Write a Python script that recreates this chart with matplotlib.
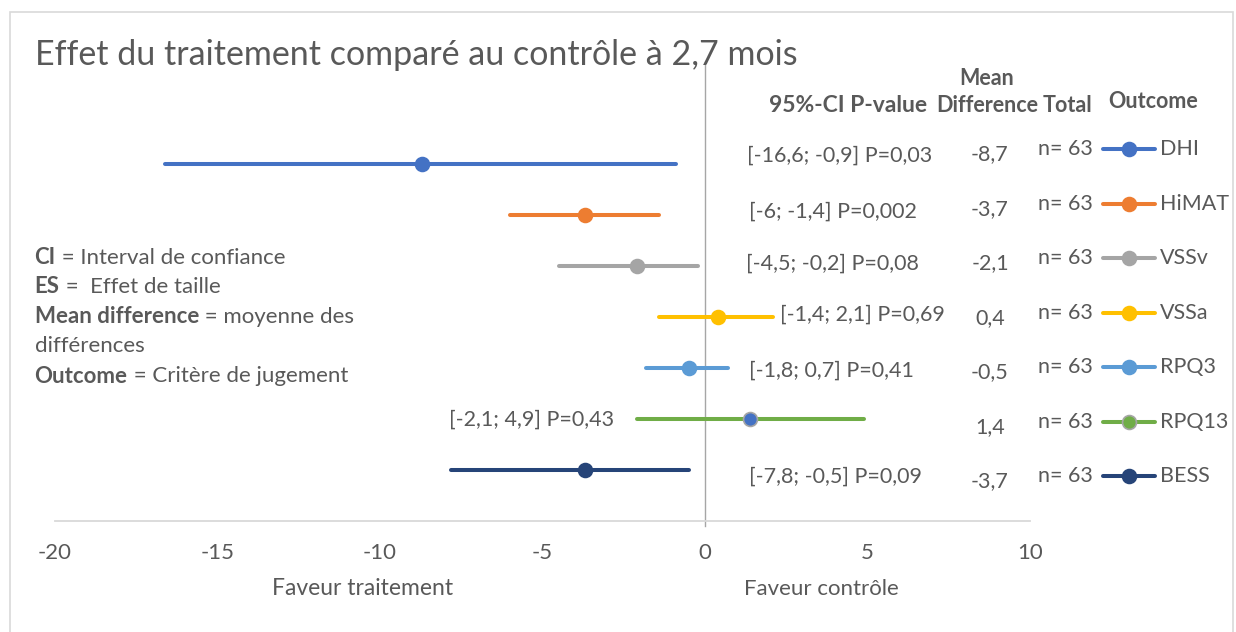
import matplotlib
matplotlib.use('Agg')
import matplotlib.pyplot as plt
from matplotlib.lines import Line2D
from matplotlib.patches import Rectangle

plt.rcParams['font.family'] = ['Lato', 'DejaVu Sans']

# data
outcomes = ['DHI', 'HiMAT', 'VSSv', 'VSSa', 'RPQ3', 'RPQ13', 'BESS']
mean_diff = [-8.7, -3.7, -2.1, 0.4, -0.5, 1.4, -3.7]
ci_low = [-16.6, -6.0, -4.5, -1.4, -1.8, -2.1, -7.8]
ci_high = [-0.9, -1.4, -0.2, 2.1, 0.7, 4.9, -0.5]
p_values = [0.03, 0.002, 0.08, 0.69, 0.41, 0.43, 0.09]
n_total = [63, 63, 63, 63, 63, 63, 63]
colors = ['#4472C4', '#ED7D31', '#A5A5A5', '#FFC000', '#5B9BD5', '#70AD47', '#264478']
x_ticks = [-20, -15, -10, -5, 0, 5, 10]

TXT = '#595959'
FS = 15.5


def fr(v):
    # french decimal format, drop ",0"
    if float(v).is_integer():
        return f"{int(v)}"
    return f"{v:g}".replace('.', ',')


fig = plt.figure(figsize=(12.36, 6.32), dpi=100)
ax = fig.add_axes([0.0445, 0.1756, 0.7888, 0.7263])

# chart frame
fig.patches.append(Rectangle((0.0081, -0.05), 0.9895, 1.031, transform=fig.transFigure,
                             fill=False, edgecolor='#D9D9D9', linewidth=1.2))

n = len(outcomes)
rows = [n - i for i in range(n)]  # DHI on top

ax.axvline(0, ymin=-0.01, ymax=1, color='#A6A6A6', linewidth=1, zorder=1, clip_on=False)

for i, name in enumerate(outcomes):
    y = rows[i]
    ax.plot([ci_low[i], ci_high[i]], [y, y], color=colors[i], linewidth=2.9,
            solid_capstyle='round', zorder=2)
    face = '#4472C4' if name == 'RPQ13' else colors[i]
    edge = '#A5A5A5' if name == 'RPQ13' else colors[i]
    ax.plot(mean_diff[i], y, 'o', color=face, markeredgecolor=edge, markeredgewidth=1.2,
            markersize=10, zorder=3)

# CI / p-value labels (layout, data units)
ci_label_pos = [(1.3, 7.17, 'left'), (1.35, 6.07, 'left'), (1.25, 5.05, 'left'),
                (2.3, 4.05, 'left'), (1.35, 2.95, 'left'), (-2.8, 1.98, 'right'),
                (1.35, 0.86, 'left')]
for i in range(n):
    lx, ly, ha = ci_label_pos[i]
    ax.text(lx, ly, f"[{fr(ci_low[i])}; {fr(ci_high[i])}] P={fr(p_values[i])}",
            ha=ha, va='center', fontsize=FS, color=TXT)

# right-hand columns
col_y0, col_step = 7.29, 1.069
for i in range(n):
    yy = col_y0 - i * col_step
    ax.text(8.77, yy - 0.1, fr(mean_diff[i]), ha='center', va='center', fontsize=FS,
            color=TXT, clip_on=False)
    ax.text(11.1, yy, f"n= {n_total[i]}", ha='center', va='center', fontsize=FS,
            color=TXT, clip_on=False)
    ax.add_line(Line2D([12.25, 13.85], [yy, yy], color=colors[i], linewidth=2.9,
                       solid_capstyle='round', clip_on=False))
    edge = '#A5A5A5' if outcomes[i] == 'RPQ13' else colors[i]
    ax.plot(13.05, yy, 'o', color=colors[i], markeredgecolor=edge, markeredgewidth=1.2,
            markersize=10, clip_on=False, zorder=3)
    ax.text(14.0, yy, outcomes[i], ha='left', va='center', fontsize=FS, color=TXT,
            clip_on=False)

# column headers
hdr = dict(fontsize=FS, fontweight='bold', color=TXT, va='center', clip_on=False)
ax.text(4.4, 8.15, '95%-CI P-value', ha='center', fontsize=16.5, fontweight='bold',
        color=TXT, va='center', clip_on=False)
ax.text(8.68, 8.68, 'Mean', ha='center', **hdr)
ax.text(8.68, 8.15, 'Difference', ha='center', **hdr)
ax.text(11.15, 8.15, 'Total', ha='center', **hdr)
ax.text(13.78, 8.22, 'Outcome', ha='center', **hdr)

# title
fig.text(0.028, 0.913, 'Effet du traitement comparé au contrôle à 2,7 mois',
         fontsize=24.5, color=TXT, va='center', ha='left')

# notes with bold keys
notes = [('CI', ' = Interval de confiance'), ('ES', ' =  Effet de taille'),
         ('Mean difference', ' = moyenne des'), ('', 'différences'),
         ('Outcome', ' = Critère de jugement')]
note_y = [0.592, 0.546, 0.499, 0.452, 0.405]
for (b, t), yy in zip(notes, note_y):
    if b:
        bt = fig.text(0.028, yy, b, fontsize=16, fontweight='bold', color=TXT, va='center')
        ax.annotate(t, xy=(1, 0.5), xycoords=bt, va='center', ha='left',
                    fontsize=16, color=TXT, annotation_clip=False)
    else:
        fig.text(0.028, yy, t, fontsize=16, color=TXT, va='center')

# axes styling
ax.set_xlim(-20, 10)
ax.set_ylim(0, 9)
ax.set_xticks(x_ticks)
ax.set_xticklabels([str(t) for t in x_ticks])
ax.set_yticks([])
for s in ['top', 'right', 'left']:
    ax.spines[s].set_visible(False)
ax.spines['bottom'].set_color('#D9D9D9')
ax.spines['bottom'].set_linewidth(1.3)
ax.tick_params(axis='x', length=0, pad=16, labelsize=16, labelcolor=TXT)

ax.text(-10.55, -1.33, 'Faveur traitement', ha='center', va='center', fontsize=16.5,
        color=TXT, clip_on=False)
ax.text(3.57, -1.33, 'Faveur contrôle', ha='center', va='center', fontsize=16,
        color=TXT, clip_on=False)

fig.savefig('out.png', dpi=100)
